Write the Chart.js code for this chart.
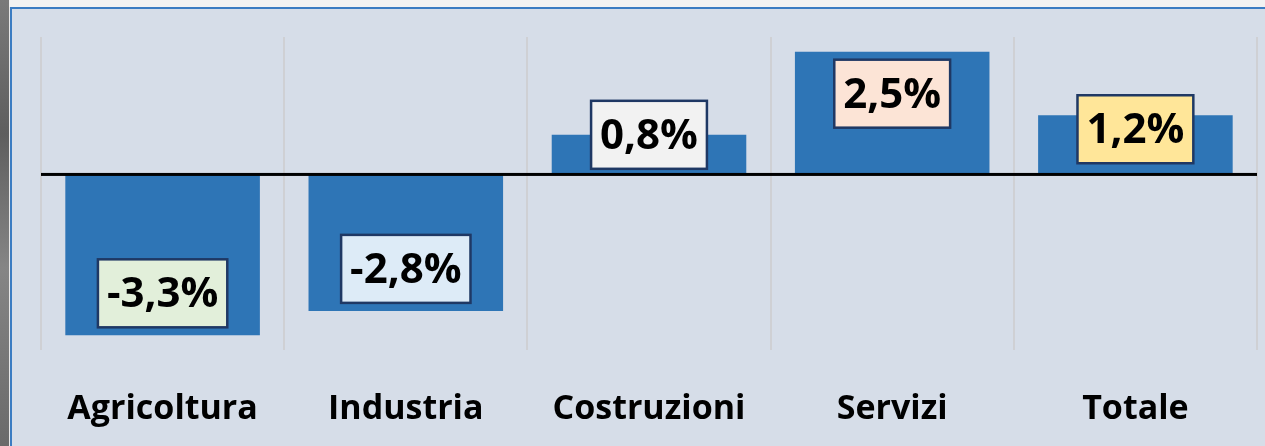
<!DOCTYPE html>
<html>
<head>
<meta charset="utf-8">
<script src="https://cdn.jsdelivr.net/npm/chart.js@4"></script>
<style>
  html, body { margin: 0; padding: 0; background: #d6dde8; }
  #wrap { position: relative; width: 1265px; height: 446px; }
</style>
</head>
<body>
<div id="wrap"><canvas id="growth-chart" width="1265" height="446"></canvas></div>
<script>
// dati
const categories = ['Agricoltura', 'Industria', 'Costruzioni', 'Servizi', 'Totale'];
const values = [-3.3, -2.8, 0.8, 2.5, 1.2];
const labelFills = ['#e2efda', '#ddebf7', '#f2f2f2', '#fce4d6', '#ffe699'];

// spostamento etichette verso la base della barra (px)
const labelInset = [42, 42, 0, 42, 14];

const fmt = v => v.toFixed(1).replace('.', ',') + '%';

// sfondo, cornice, linea dello zero ed etichette a riquadro
const framePlugin = {
    id: 'frame',
    beforeDraw(chart) {
        const ctx = chart.ctx;
        const w = chart.width, h = chart.height;
        ctx.save();
        ctx.fillStyle = '#d6dde8';
        ctx.fillRect(0, 0, w, h);
        // striscia superiore chiara
        ctx.fillStyle = '#f2f2f2';
        ctx.fillRect(0, 0, w, 7);
        // bordo sinistro scuro
        const g = ctx.createLinearGradient(0, 0, 0, h);
        g.addColorStop(0, '#7a7a7a');
        g.addColorStop(0.3, '#5e5e5e');
        g.addColorStop(0.6, '#858585');
        g.addColorStop(1, '#6a6a6a');
        ctx.fillStyle = g;
        ctx.fillRect(0, 0, 9, h);
        ctx.fillStyle = '#e8e8e8';
        ctx.fillRect(9, 7, 1, h);
        // linee blu
        ctx.fillStyle = '#3b7cc2';
        ctx.fillRect(10, 7, w - 10, 2);
        ctx.fillRect(10, 7, 2, h);
        ctx.restore();
    },
    afterDatasetsDraw(chart) {
        const ctx = chart.ctx;
        const area = chart.chartArea;
        const y0 = chart.scales.y.getPixelForValue(0);
        ctx.save();
        ctx.fillStyle = '#000000';
        ctx.fillRect(area.left, y0 - 1, area.right - area.left, 3);

        ctx.font = 'bold 42px "Open Sans"';
        ctx.textAlign = 'center';
        ctx.textBaseline = 'middle';
        chart.getDatasetMeta(0).data.forEach((bar, i) => {
            const text = fmt(values[i]);
            const tw = ctx.measureText(text).width;
            const bw = tw + 18, bh = 68;
            const dir = values[i] >= 0 ? 1 : -1;
            const cy = bar.y + dir * labelInset[i];
            const x = bar.x - bw / 2, y = cy - bh / 2;
            ctx.fillStyle = labelFills[i];
            ctx.fillRect(x, y, bw, bh);
            ctx.strokeStyle = '#1f3864';
            ctx.lineWidth = 2.5;
            ctx.strokeRect(x, y, bw, bh);
            ctx.fillStyle = '#000000';
            ctx.fillText(text, bar.x, cy + 2);
        });
        ctx.restore();
    }
};

new Chart(document.getElementById('growth-chart'), {
    type: 'bar',
    data: {
        labels: categories,
        datasets: [{
            data: values,
            backgroundColor: '#2e75b6',
            borderWidth: 0,
            barPercentage: 0.8,
            categoryPercentage: 1.0
        }]
    },
    options: {
        responsive: false,
        animation: false,
        layout: { padding: { left: 41, right: 8, top: 37, bottom: 18 } },
        plugins: {
            legend: { display: false },
            tooltip: { enabled: false }
        },
        scales: {
            x: {
                border: { display: false },
                grid: {
                    color: 'rgba(206, 206, 208, 0.85)',
                    lineWidth: 2,
                    drawTicks: false
                },
                ticks: {
                    color: '#000000',
                    padding: 39,
                    font: { family: 'Open Sans', weight: 'bold', size: 34 }
                },
                afterFit(scale) { scale.height = 78; }
            },
            y: {
                display: false,
                min: -3.6,
                max: 2.8
            }
        }
    },
    plugins: [framePlugin]
});
</script>
</body>
</html>
